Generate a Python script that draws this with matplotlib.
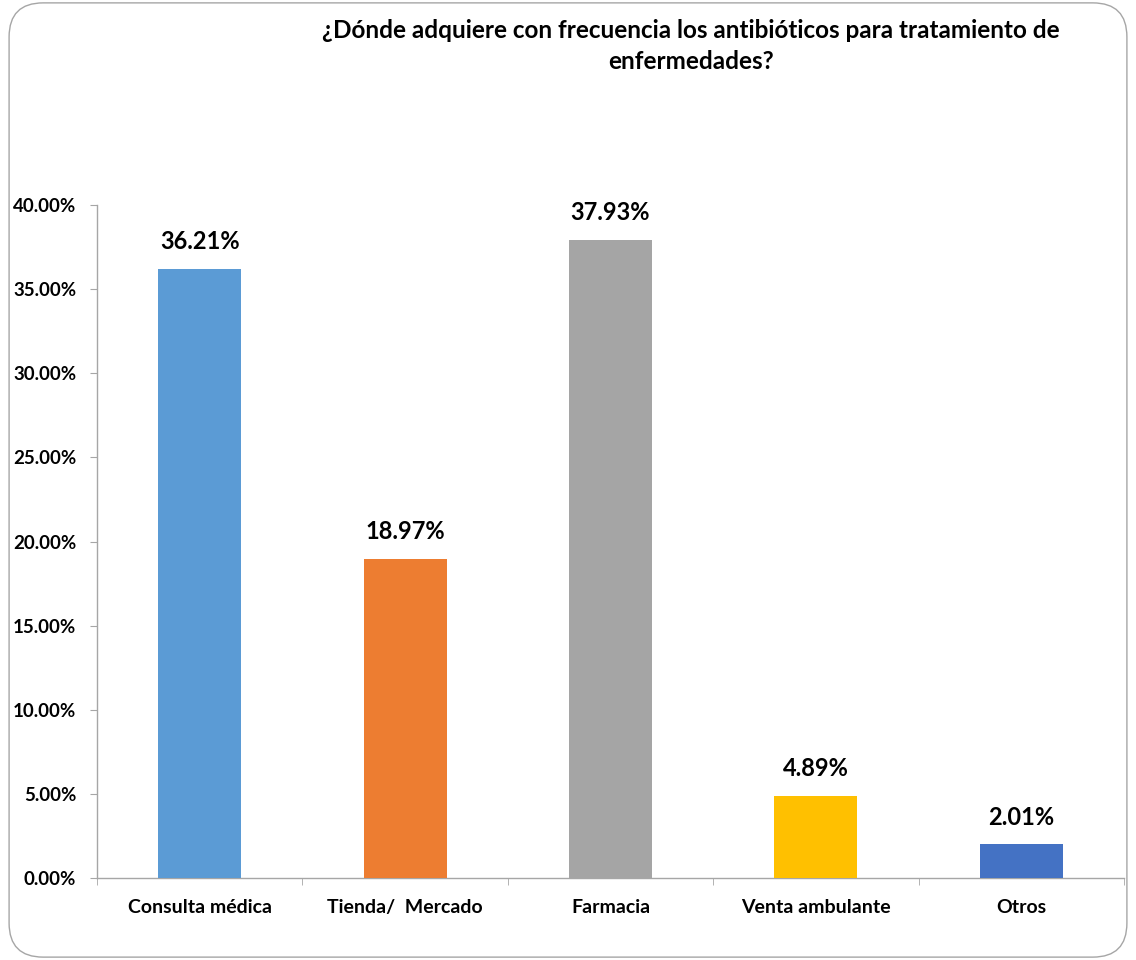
import matplotlib.pyplot as plt
from matplotlib.patches import FancyBboxPatch
from matplotlib.ticker import FuncFormatter
import numpy as np

plt.rcParams['font.family'] = ['Lato', 'DejaVu Sans']

categories = ['Consulta médica', 'Tienda/  Mercado', 'Farmacia', 'Venta ambulante', 'Otros']
values = [36.21, 18.97, 37.93, 4.89, 2.01]
colors = ['#5B9BD5', '#ED7D31', '#A5A5A5', '#FFC000', '#4472C4']
title = '¿Dónde adquiere con frecuencia los antibióticos para tratamiento de\nenfermedades?'

fig = plt.figure(figsize=(11.36, 9.6), dpi=100)
ax = fig.add_axes([0.0854, 0.0854, 0.904, 0.701])

x = np.arange(len(categories))
bars = ax.bar(x, values, width=0.405, color=colors, zorder=3)

for b, v in zip(bars, values):
    ax.annotate(f'{v:.2f}%', (b.get_x() + b.get_width() / 2, v),
                xytext=(0, 19.5), textcoords='offset points',
                ha='center', va='center', fontsize=17, fontweight='bold')

ax.set_xlim(-0.5, len(categories) - 0.5)
ax.set_ylim(0, 40)
ax.set_yticks(np.arange(0, 41, 5))
ax.yaxis.set_major_formatter(FuncFormatter(lambda v, p: f'{v:.2f}%'))
ax.set_xticks(x)
ax.set_xticklabels(categories)
ax.set_xticks(np.arange(-0.5, len(categories), 1), minor=True)

for s in ['top', 'right']:
    ax.spines[s].set_visible(False)
for s in ['left', 'bottom']:
    ax.spines[s].set_color('#A6A6A6')
    ax.spines[s].set_linewidth(1)

ax.tick_params(axis='y', length=5, color='#A6A6A6', labelsize=13.5, pad=10)
ax.tick_params(axis='x', which='major', length=0, labelsize=14, pad=15)
ax.tick_params(axis='x', which='minor', length=5, color='#A6A6A6')
for lbl in ax.get_yticklabels() + ax.get_xticklabels():
    lbl.set_fontweight('bold')

fig.text(0.608, 0.98, title, ha='center', va='top', fontsize=17.5,
         fontweight='bold', linespacing=1.4)

frame = FancyBboxPatch((0.008, 0.003), 0.984, 0.994,
                       boxstyle='round,pad=0,rounding_size=0.03',
                       transform=fig.transFigure, fill=False,
                       edgecolor='#A6A6A6', linewidth=1, mutation_aspect=1136 / 960)
fig.patches.append(frame)

fig.savefig('out.png', dpi=100)
